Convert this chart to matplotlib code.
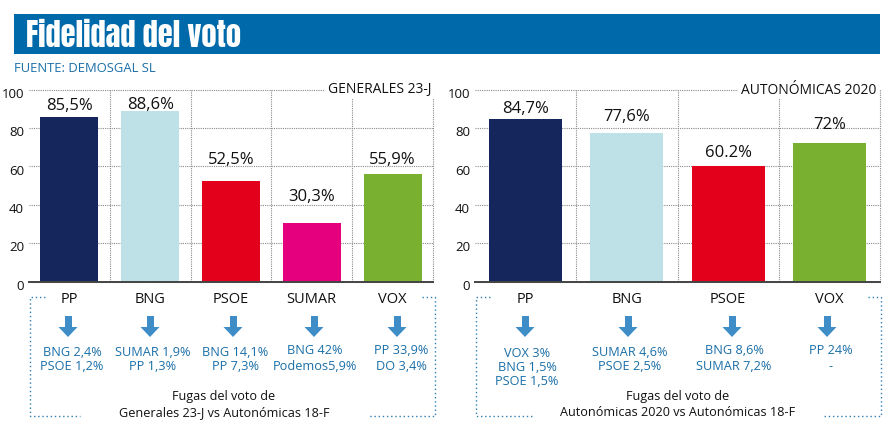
"""Fidelidad del voto: two bar panels with vote-leak notes underneath."""
import matplotlib
matplotlib.use("Agg")
import matplotlib.pyplot as plt
from matplotlib.patches import Polygon, Rectangle
from matplotlib.transforms import ScaledTranslation

plt.rcParams["font.family"] = ["Open Sans", "DejaVu Sans"]

# ── Data ──────────────────────────────────────────────────────────────────────

LEFT_PARTIES = ["PP", "BNG", "PSOE", "SUMAR", "VOX"]
LEFT_VALUES = [85.5, 88.6, 52.5, 30.3, 55.9]
LEFT_LABELS = ["85,5%", "88,6%", "52,5%", "30,3%", "55,9%"]
LEFT_COLORS = ["#14265c", "#bde1e6", "#e2001a", "#e5007d", "#7ab030"]
LEFT_LEAKS = [
    ["BNG 2,4%", "PSOE 1,2%"],
    ["SUMAR 1,9%", "PP 1,3%"],
    ["BNG 14,1%", "PP 7,3%"],
    ["BNG 42%", "Podemos5,9%"],
    ["PP 33,9%", "DO 3,4%"],
]

RIGHT_PARTIES = ["PP", "BNG", "PSOE", "VOX"]
RIGHT_VALUES = [84.7, 77.6, 60.2, 72]
RIGHT_LABELS = ["84,7%", "77,6%", "60.2%", "72%"]
RIGHT_COLORS = ["#14265c", "#bde1e6", "#e2001a", "#7ab030"]
RIGHT_LEAKS = [
    ["VOX 3%", "BNG 1,5%", "PSOE 1,5%"],
    ["SUMAR 4,6%", "PSOE 2,5%"],
    ["BNG 8,6%", "SUMAR 7,2%"],
    ["PP 24%", "-"],
]

YTICKS = [0, 20, 40, 60, 80, 100]

# ── Layout (pixels from the top left) ─────────────────────────────────────────

W, H = 894, 435
BLUE, LEAK_BLUE, ARROW_BLUE = "#0069aa", "#1b6fa8", "#3f8dc6"
INK, GRID = "#111111", "#8a8a8a"

fig = plt.figure(figsize=(W / 100, H / 100), dpi=100, facecolor="white")
bg = fig.add_axes([0, 0, 1, 1])
bg.set_xlim(0, W)
bg.set_ylim(H, 0)
bg.axis("off")
bg.set_zorder(2)


def bar_panel(x0, x1, parties, values, labels, colors, lifts, title, title_x):
    ax = fig.add_axes([x0 / W, 1 - 282.5 / H, (x1 - x0) / W, 192 / H])
    pos = list(range(len(parties)))
    ax.bar(pos, values, width=0.72, color=colors, zorder=3)
    ax.set_xlim(-0.5, len(parties) - 0.5)
    ax.set_ylim(0, 100)
    ax.set_yticks(YTICKS)
    ax.set_xticks(pos, parties)
    ax.set_xticks([p + 0.5 for p in pos], minor=True)
    ax.grid(True, which="major", axis="y", color=GRID, lw=0.8, ls=(0, (1, 1)), zorder=1, clip_on=False)
    ax.grid(True, which="minor", axis="x", color=GRID, lw=0.8, ls=(0, (1, 1)), zorder=1, clip_on=False)
    ax.tick_params(axis="x", which="both", length=0, pad=7, labelsize=10.5, labelcolor=INK)
    ax.tick_params(axis="y", length=0, pad=3.5, labelsize=9.5, labelcolor=INK)
    for lab in ax.get_yticklabels():
        lab.set_transform(lab.get_transform() + ScaledTranslation(0, -1.6 / 72, fig.dpi_scale_trans))
    for side in ["top", "right", "left"]:
        ax.spines[side].set_visible(False)
    ax.spines["bottom"].set_color("#444444")
    ax.spines["bottom"].set_linewidth(1.4)
    ax.spines["bottom"].set_zorder(4)
    for p, v, lab, lift in zip(pos, values, labels, lifts):
        ax.annotate(lab, (p, v), xytext=(0, lift), textcoords="offset pixels",
                    ha="center", va="center", fontsize=12, color=INK, zorder=5)
    bg.text(title_x, 90, title, ha="right", va="center", fontsize=10, color=INK,
            bbox=dict(facecolor="white", edgecolor="none", pad=2))
    return ax


def leak_notes(cols, arrows, ys, leaks):
    for cx, ax_x, y_list, lines in zip(cols, arrows, ys, leaks):
        bg.add_patch(Rectangle((ax_x - 3.5, 317), 7, 11, color=ARROW_BLUE, lw=0))
        bg.add_patch(Polygon([(ax_x - 9.5, 328), (ax_x + 9.5, 328), (ax_x, 338)], color=ARROW_BLUE, lw=0))
        for y, line in zip(y_list, lines):
            bg.text(cx, y, line, ha="center", va="center", fontsize=9.2, color=LEAK_BLUE)


def dotted_frame(x0, x1, top_l, top_r, bot_l, bot_r):
    style = dict(color="#2f7fb5", lw=1.0, ls=(0, (1, 2)))
    bg.plot([top_l, x0, x0, bot_l], [298, 298, 417, 417], **style)
    bg.plot([top_r, x1, x1, bot_r], [298, 298, 417, 417], **style)


# ── Header ────────────────────────────────────────────────────────────────────

bg.add_patch(Rectangle((14, 15), 866, 40, color=BLUE, lw=0))
bg.text(26, 35.5, "Fidelidad del voto", ha="left", va="center", color="white",
        fontsize=22, family=["Anton", "Roboto", "DejaVu Sans"])
bg.text(14, 69, "FUENTE: DEMOSGAL SL", ha="left", va="center", fontsize=9.4, color=LEAK_BLUE)

# ── Panels ────────────────────────────────────────────────────────────────────

bar_panel(29, 433, LEFT_PARTIES, LEFT_VALUES, LEFT_LABELS, LEFT_COLORS,
          [12, 7, 22, 27, 15], "GENERALES 23-J", 431)
bar_panel(475, 880, RIGHT_PARTIES, RIGHT_VALUES, RIGHT_LABELS, RIGHT_COLORS,
          [11, 17, 14, 19], "AUTONÓMICAS 2020", 876)

leak_notes([72, 153, 235, 315, 401], [68, 150, 233, 314, 397],
           [[353, 367], [353, 367], [353, 367], [351, 367], [351, 367]], LEFT_LEAKS)
leak_notes([527, 630, 734, 831], [525, 628, 732, 827],
           [[354, 368, 382], [353, 367], [351, 367], [351, 367]], RIGHT_LEAKS)

dotted_frame(30, 435, 45, 422, 80, 369)
dotted_frame(476, 881, 490, 868, 534, 823)

bg.text(224, 397, "Fugas del voto de", ha="center", va="center", fontsize=9.05, color=INK)
bg.text(224, 413, "Generales 23-J vs Autonómicas 18-F", ha="center", va="center", fontsize=9.05, color=INK)
bg.text(678, 397, "Fugas del voto de", ha="center", va="center", fontsize=9.05, color=INK)
bg.text(678, 413, "Autonómicas 2020 vs Autonómicas 18-F", ha="center", va="center", fontsize=9.05, color=INK)

fig.savefig("out.png", dpi=100)
